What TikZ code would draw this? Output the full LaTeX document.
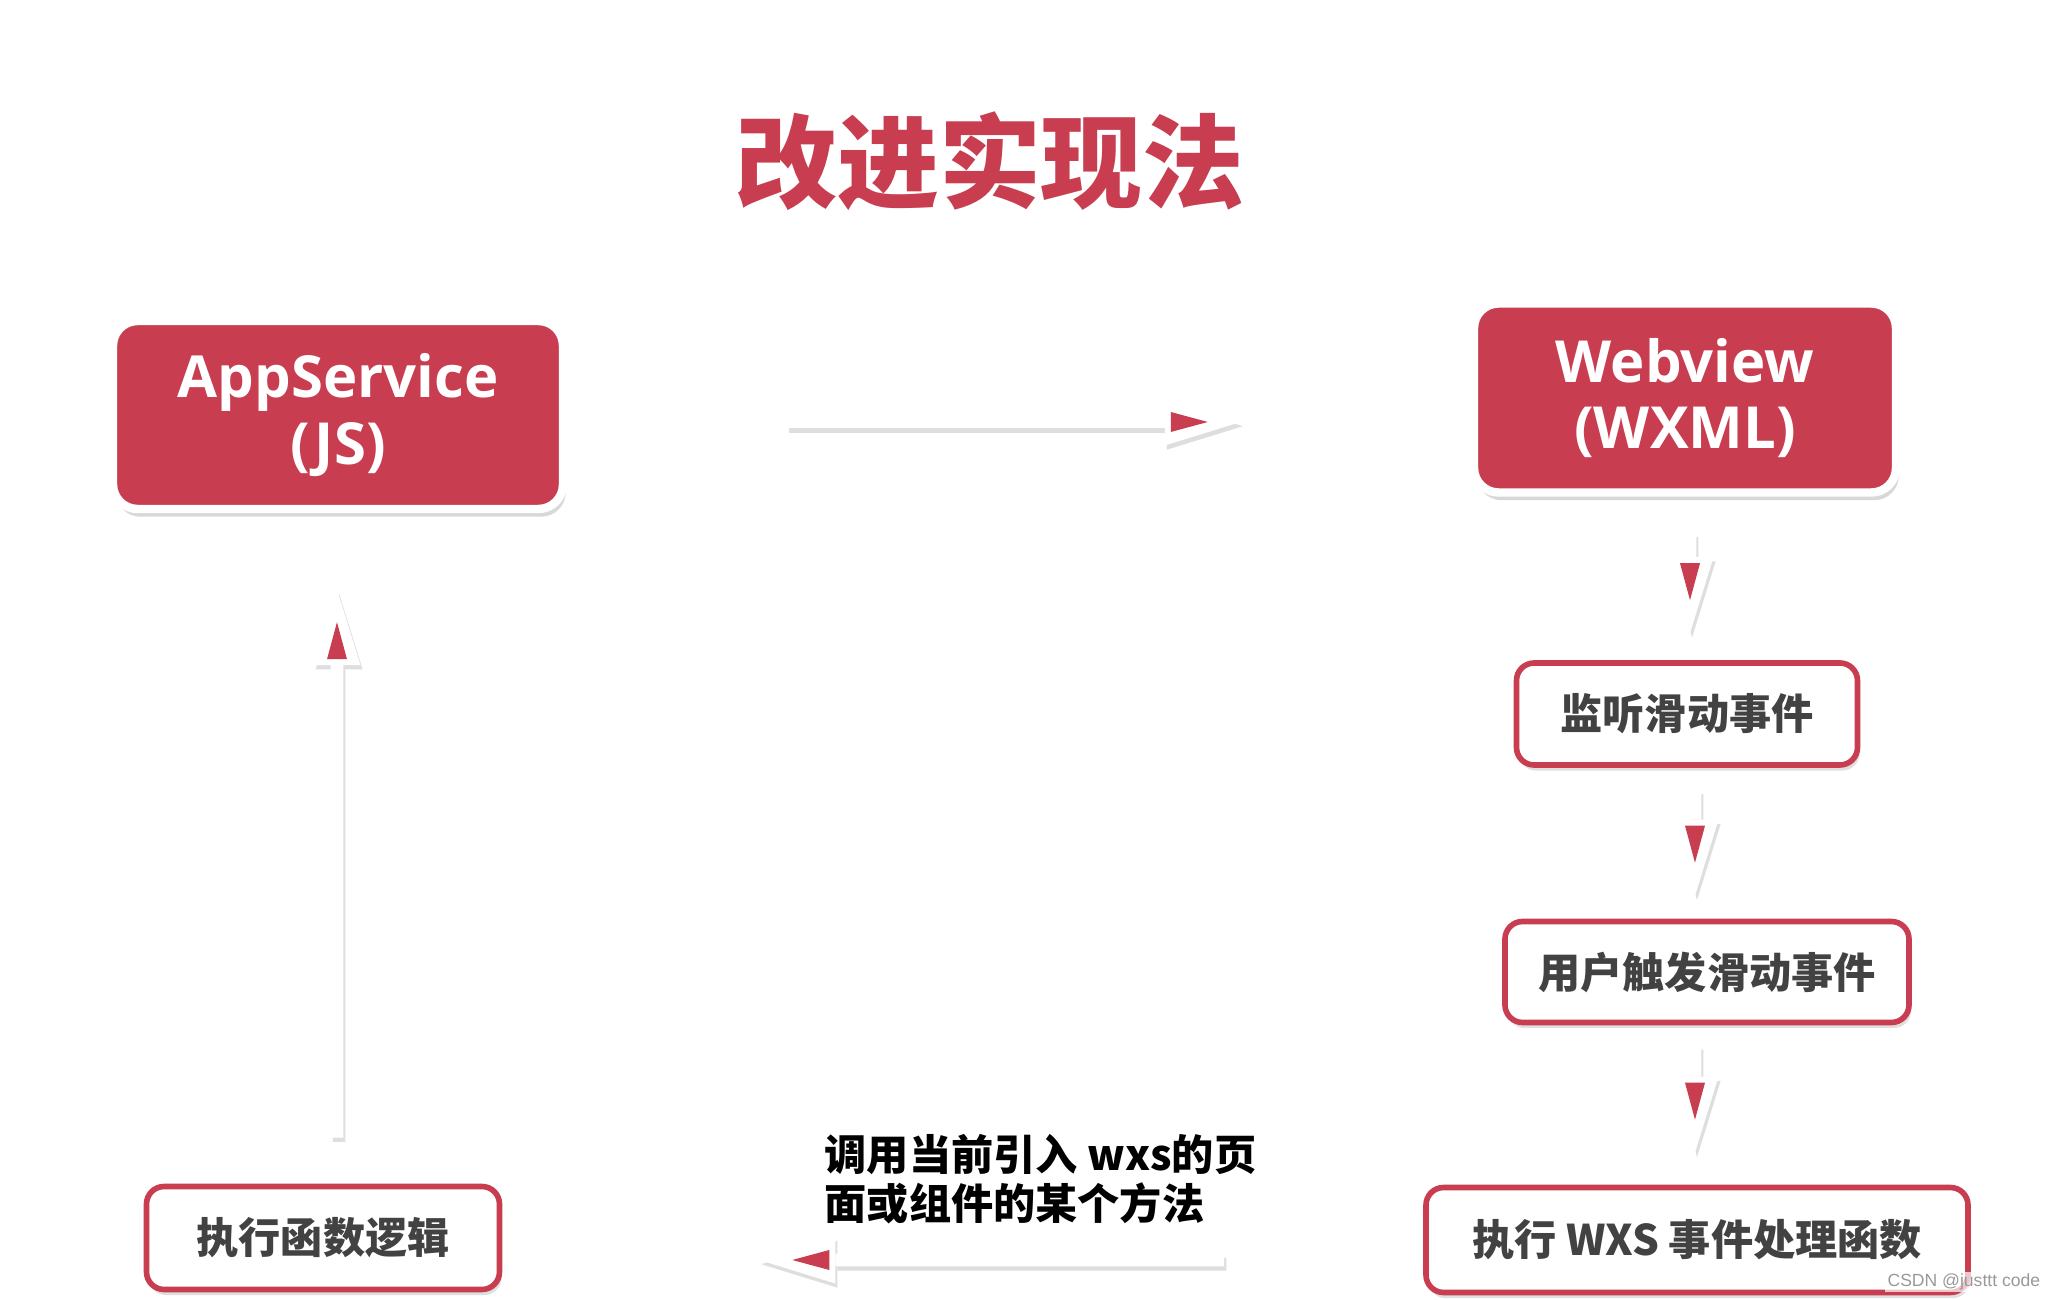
\documentclass[tikz,border=0pt]{standalone}
\usepackage{fontspec}
\setmainfont{Open Sans}
\newfontfamily\cjk{Noto Sans CJK SC}
\newfontfamily\wmfont{Liberation Sans}
\usetikzlibrary{arrows.meta,shadows,positioning}
\definecolor{wxred}{RGB}{200,61,79}
\definecolor{boxtext}{RGB}{66,66,66}
\tikzset{
  titletext/.style={text=wxred, font=\cjk\bfseries\fontsize{29}{32}\selectfont, inner sep=0pt},
  mainbox/.style={draw=white, line width=2.4pt, fill=wxred, rounded corners=7pt,
    text=white, align=center, font=\bfseries\fontsize{16.5}{19}\selectfont,
    drop shadow={shadow xshift=0.8pt, shadow yshift=-2.2pt, opacity=0.3}},
  stepbox/.style={draw=wxred, line width=1.6pt, fill=white, rounded corners=5pt,
    text=boxtext, font=\cjk\bfseries\fontsize{12}{14}\selectfont,
    drop shadow={shadow xshift=0.6pt, shadow yshift=-1.6pt, opacity=0.25}},
  notetext/.style={text=black, align=left, inner sep=0pt, font=\cjk\bfseries\fontsize{12}{13.8}\selectfont},
  flowshadow/.style={draw=black!13, line width=3.6pt,
    -{Triangle[length=0.76cm, width=0.47cm, line width=0pt]},
    transform canvas={xshift=0.6pt, yshift=-1.2pt}},
  flowline/.style={draw=white, line width=3.6pt,
    -{Triangle[length=0.76cm, width=0.47cm, line width=0pt]}},
  flowhead/.style={draw=white, line width=0.2pt,
    -{Triangle[length=0.37cm, width=0.2cm, line width=0pt, color=wxred]}}
}
% shadow, white arrow, red inner tip
\newcommand{\flowarrow}[4]{%
  \draw[flowshadow, shorten <=#3, shorten >=#4] #1 -- #2;
  \draw[flowline, shorten <=#3, shorten >=#4] #1 -- #2;
  \draw[flowhead, shorten <=#3, shorten >=#4+0.33cm] #1 -- #2;}
\begin{document}
\begin{tikzpicture}
  \useasboundingbox[fill=white] (0,0) rectangle (20.57,-13);
  \node[titletext] (title) at (9.90,-1.61) {改进实现法};

  % the two sides
  \node[mainbox, minimum width=4.5cm, minimum height=1.88cm] (app) at (3.38,-4.15) {AppService\\(JS)};
  \node[mainbox, minimum width=4.22cm, minimum height=1.89cm] (web) at (16.85,-3.98) {Webview\\(WXML)};

  % steps in the webview
  \node[stepbox, minimum width=3.41cm, minimum height=1.02cm] (listen) at (16.87,-7.14) {监听滑动事件};
  \node[stepbox, minimum width=4.04cm, minimum height=1.01cm] (trigger) at (17.07,-9.72) {用户触发滑动事件};
  \node[stepbox, minimum width=5.42cm, minimum height=1.05cm] (wxs) at (16.97,-12.40) {执行 WXS 事件处理函数};
  \node[stepbox, minimum width=3.53cm, minimum height=1.03cm] (logic) at (3.23,-12.38) {执行函数逻辑};

  \node[notetext, anchor=west] (note) at (8.24,-11.79) {调用当前引入 wxs的页\\面或组件的某个方法};

  \flowarrow{([yshift=-0.07cm]app.east)}{([yshift=-0.24cm]web.west)}{2.20cm}{2.29cm}
  \flowarrow{([xshift=0.05cm]web.south)}{([xshift=0.03cm]listen.north)}{0.36cm}{0.27cm}
  \flowarrow{([xshift=0.08cm]listen.south)}{([xshift=-0.12cm]trigger.north)}{0.22cm}{0.23cm}
  \flowarrow{([xshift=-0.12cm]trigger.south)}{([xshift=-0.02cm]wxs.north)}{0.20cm}{0.32cm}
  \flowarrow{([yshift=-0.20cm]wxs.west)}{([yshift=-0.22cm]logic.east)}{1.99cm}{2.57cm}
  \flowarrow{([xshift=0.14cm]logic.north)}{([xshift=-0.01cm]app.south)}{0.46cm}{0.76cm}

  \node[anchor=east, inner sep=0.6pt, fill=white, fill opacity=0.7, text opacity=1, text=black!40, font=\wmfont\fontsize{5}{6}\selectfont] (mark) at (20.43,-12.82) {CSDN @justtt code};
\end{tikzpicture}
\end{document}
